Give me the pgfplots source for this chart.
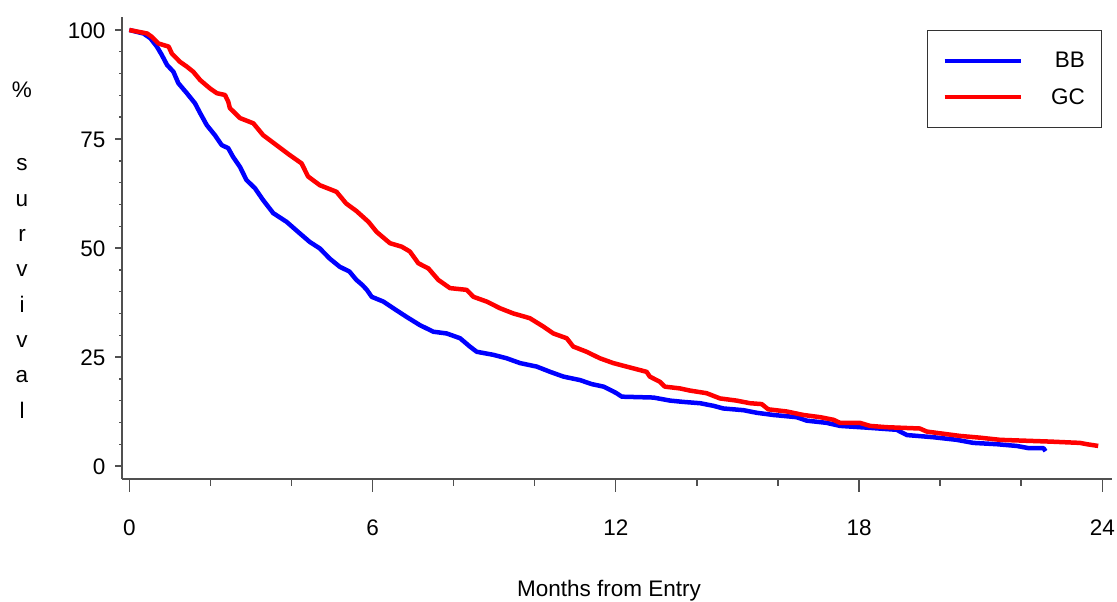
\documentclass[border=0pt]{standalone}
\usepackage{pgfplots}
\pgfplotsset{compat=1.18}
\usepackage{fontspec}
\setmainfont{Liberation Sans}
\newcommand{\axfont}{\fontsize{22.5}{26}\selectfont}
\definecolor{axgray}{RGB}{80,80,80}
\begin{document}
\begin{tikzpicture}
\useasboundingbox (0,0) rectangle (1117pt,602pt);
\begin{axis}[
  at={(122pt,123pt)}, anchor=south west,
  x=40.54pt, y=4.36pt,
  xmin=-0.18, xmax=24.24, ymin=-2.98, ymax=103,
  axis x line*=bottom, axis y line*=left,
  axis line style={axgray, line width=1.6pt, -},
  xtick={0,6,12,18,24}, minor x tick num=2,
  ytick={0,25,50,75,100}, minor y tick num=4,
  tick align=outside,
  major tick length=8pt, minor tick length=4pt,
  tick style={axgray, line width=1.4pt},
  xtick style={/pgfplots/major tick length=13pt, /pgfplots/minor tick length=7pt},
  ytick style={/pgfplots/major tick length=7pt, /pgfplots/minor tick length=3pt},
  /pgf/number format/assume math mode=true,
  tick label style={font=\axfont, black},
  xticklabel style={anchor=north, yshift=-29pt},
  yticklabel style={anchor=east, yshift=-1pt, xshift=-5pt},
  legend style={at={(axis cs:24,100)}, anchor=north east, draw=black!80, line width=1pt,
    font=\axfont, inner xsep=15pt, inner ysep=20pt, row sep=15pt},
  legend cell align=right,
  legend image code/.code={\draw[#1, line width=4.5pt] (0pt,0pt) -- (76pt,0pt);},
  clip=false,
]
\addplot[color={rgb,255:red,0;green,0;blue,255}, line width=4.5pt, line join=round] coordinates {
(0,100) (0.35,99.2) (0.52,98.1) (0.68,96.2) (0.80,94.3) (0.93,92.0) (1.09,90.4)
(1.21,87.8) (1.42,85.5) (1.62,83.2) (1.75,80.9) (1.91,78.2) (2.11,75.9) (2.28,73.6)
(2.44,72.9) (2.56,70.9) (2.73,68.6) (2.89,65.6) (3.10,63.7) (3.30,61.0) (3.55,58.0)
(3.88,56.0) (4.20,53.4) (4.45,51.4) (4.70,49.9) (4.94,47.6) (5.19,45.7) (5.43,44.6)
(5.60,42.7) (5.75,41.5) (5.86,40.4) (5.98,38.8) (6.27,37.7) (6.51,36.2) (6.84,34.2)
(7.17,32.3) (7.50,30.8) (7.83,30.4) (8.16,29.3) (8.40,27.4) (8.57,26.2) (8.98,25.5)
(9.31,24.7) (9.64,23.6) (10.05,22.8) (10.38,21.6) (10.71,20.5) (11.12,19.7) (11.4,18.8)
(11.7,18.2) (12.0,16.8) (12.15,15.9) (12.93,15.7) (13.34,15.0) (13.67,14.7) (14.08,14.4)
(14.41,13.8) (14.65,13.2) (15.15,12.8) (15.48,12.2) (15.89,11.7) (16.46,11.2) (16.71,10.4)
(17.20,9.9) (17.53,9.2) (18.19,8.8) (18.93,8.3) (19.18,7.1) (19.83,6.6) (20.41,6.0)
(20.82,5.3) (21.40,5.0) (21.89,4.6) (22.18,4.1) (22.55,4.1) (22.6,3.4)
};
\addlegendentry{\makebox[60pt][r]{BB}}
\addplot[color={rgb,255:red,255;green,0;blue,0}, line width=4.5pt, line join=round] coordinates {
(0,100) (0.44,99.2) (0.56,98.4) (0.72,96.9) (0.97,96.2) (1.05,94.6) (1.25,92.7)
(1.42,91.6) (1.58,90.4) (1.75,88.5) (1.99,86.6) (2.16,85.5) (2.36,85.1) (2.44,83.6)
(2.48,82.1) (2.73,79.8) (3.06,78.6) (3.30,75.9) (3.63,73.6) (3.96,71.3) (4.25,69.4)
(4.41,66.4) (4.70,64.4) (5.11,62.9) (5.35,60.2) (5.60,58.5) (5.90,56.0) (6.10,53.7)
(6.43,51.1) (6.72,50.3) (6.92,49.2) (7.13,46.5) (7.38,45.3) (7.62,42.7) (7.91,40.8)
(8.32,40.4) (8.49,38.8) (8.82,37.7) (9.14,36.2) (9.47,35.0) (9.88,33.9) (10.21,32.0)
(10.46,30.4) (10.79,29.3) (10.95,27.4) (11.28,26.2) (11.61,24.7) (11.94,23.6) (12.43,22.4)
(12.76,21.6) (12.84,20.5) (13.09,19.3) (13.21,18.2) (13.58,17.8) (13.83,17.3) (14.24,16.7)
(14.57,15.5) (14.98,15.0) (15.31,14.4) (15.60,14.2) (15.76,13.0) (16.22,12.5) (16.63,11.7)
(17.04,11.2) (17.37,10.6) (17.53,9.9) (18.02,9.9) (18.27,9.2) (18.68,8.9) (19.50,8.6)
(19.67,7.9) (20.16,7.3) (20.49,6.9) (20.98,6.5) (21.48,6.0) (22.71,5.6) (23.45,5.3)
(23.62,5.0) (23.90,4.6)
};
\addlegendentry{\makebox[60pt][r]{GC}}
\end{axis}
\node[anchor=base, font=\axfont] at (609pt,5pt) {Months from Entry};
\node[anchor=base, font=\axfont] at (22pt,504pt) {\%};
\foreach \c [count=\i] in {s,u,r,v,i,v,a,l}
  \node[anchor=base, font=\axfont] at (22pt,{431pt-(\i-1)*35.3pt}) {\c};
\end{tikzpicture}
\end{document}
